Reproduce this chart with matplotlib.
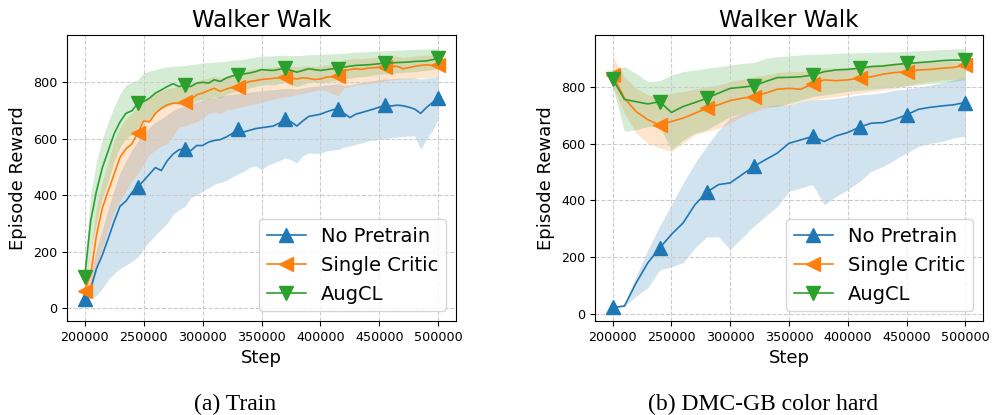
import numpy as np
import matplotlib
matplotlib.use("Agg")
import matplotlib.pyplot as plt

# ---- data: train (left) ----
train_steps = np.arange(200000, 500001, 5000)

train_none = [32, 68, 140, 188, 247, 307, 361, 379, 409, 430, 451, 475, 498, 487, 522, 546,
              561, 564, 558, 576, 576, 588, 594, 597, 606, 618, 636, 624, 630, 636, 639, 642,
              645, 655, 669, 660, 645, 663, 679, 683, 687, 695, 702, 707, 690, 675, 687, 693,
              699, 705, 712, 719, 716, 719, 717, 712, 705, 690, 711, 728, 746]
train_none_lo = [25, 35, 44, 70, 100, 122, 140, 152, 165, 180, 212, 235, 259, 280, 300, 331,
                 349, 360, 391, 400, 415, 425, 439, 445, 451, 465, 475, 485, 498, 504, 490, 505,
                 514, 522, 532, 525, 514, 540, 550, 548, 550, 556, 560, 562, 570, 575, 580, 585,
                 592, 595, 598, 600, 604, 606, 608, 610, 610, 562, 598, 630, 669]
train_none_hi = [40, 110, 212, 280, 350, 420, 480, 520, 560, 590, 620, 640, 660, 670, 685, 700,
                 710, 715, 720, 730, 737, 742, 748, 750, 755, 758, 761, 762, 765, 768, 770, 772,
                 774, 776, 778, 778, 776, 780, 784, 786, 788, 790, 792, 795, 790, 790, 795, 800,
                 803, 806, 810, 812, 812, 814, 815, 815, 815, 812, 815, 817, 820]

train_single = [62, 116, 259, 355, 415, 475, 534, 564, 582, 620, 663, 660, 690, 708, 720, 726,
                726, 732, 738, 756, 762, 771, 779, 768, 776, 782, 785, 795, 803, 806, 810, 812,
                814, 816, 818, 815, 812, 816, 814, 810, 812, 818, 820, 822, 842, 845, 848, 846,
                850, 852, 853, 854, 856, 857, 848, 852, 857, 860, 862, 860, 862]
train_single_lo = [0, 40, 140, 212, 280, 343, 380, 415, 450, 475, 510, 546, 560, 575, 582, 610,
                   642, 645, 654, 660, 672, 690, 695, 690, 702, 705, 710, 715, 720, 725, 730, 735,
                   740, 745, 748, 752, 756, 760, 765, 770, 776, 770, 760, 752, 780, 785, 790, 792,
                   794, 798, 802, 805, 808, 810, 812, 812, 814, 816, 816, 818, 818]
train_single_hi = [100, 200, 360, 450, 520, 594, 640, 670, 690, 710, 738, 745, 760, 770, 778, 782,
                   785, 790, 795, 805, 810, 815, 820, 815, 822, 828, 832, 838, 845, 848, 850, 852,
                   855, 856, 858, 856, 855, 858, 858, 856, 858, 862, 864, 866, 880, 882, 885, 884,
                   886, 888, 890, 890, 892, 893, 888, 890, 893, 895, 897, 896, 897]

train_augcl = [110, 307, 415, 498, 558, 618, 660, 690, 699, 725, 732, 744, 762, 773, 785, 795,
               785, 791, 785, 797, 800, 797, 809, 803, 815, 822, 827, 830, 833, 838, 845, 843,
               842, 846, 850, 842, 836, 842, 848, 845, 842, 845, 848, 848, 854, 857, 860, 861,
               862, 864, 866, 869, 869, 870, 871, 872, 874, 875, 876, 880, 886]
train_augcl_lo = [70, 200, 300, 390, 450, 520, 570, 600, 615, 640, 660, 670, 690, 705, 715, 725,
                  720, 725, 720, 735, 740, 740, 750, 745, 758, 765, 770, 775, 780, 785, 790, 792,
                  790, 795, 800, 790, 785, 792, 800, 800, 798, 802, 806, 808, 812, 815, 818, 820,
                  822, 825, 828, 830, 832, 833, 835, 836, 838, 840, 842, 845, 850]
train_augcl_hi = [150, 400, 520, 600, 660, 714, 760, 791, 800, 809, 833, 840, 845, 850, 855, 857,
                  858, 860, 862, 865, 869, 870, 872, 873, 875, 878, 880, 882, 886, 890, 893, 893,
                  894, 895, 896, 895, 895, 896, 898, 898, 899, 900, 901, 902, 903, 905, 907, 908,
                  909, 910, 911, 912, 913, 914, 915, 916, 917, 918, 918, 919, 920]

# ---- data: DMC-GB color hard (right) ----
test_steps = np.arange(200000, 500001, 10000)

test_none = [22, 27, 109, 180, 232, 280, 321, 385, 429, 456, 462, 491, 520, 544, 567, 602,
             614, 626, 608, 628, 640, 659, 673, 675, 687, 702, 722, 729, 734, 738, 746]
test_none_lo = [20, 25, 62, 92, 154, 166, 180, 232, 271, 271, 227, 268, 309, 344, 379, 432,
                444, 456, 385, 414, 438, 467, 503, 520, 544, 567, 591, 602, 608, 620, 628]
test_none_hi = [25, 30, 133, 227, 309, 385, 462, 532, 591, 649, 690, 708, 720, 732, 737, 737,
                749, 755, 757, 761, 767, 773, 776, 781, 790, 793, 800, 808, 816, 826, 835]

test_single = [845, 761, 714, 685, 667, 679, 691, 708, 726, 738, 753, 761, 767, 779, 793, 796,
               793, 812, 826, 823, 826, 832, 837, 846, 852, 855, 861, 863, 867, 870, 878]
test_single_lo = [802, 708, 638, 602, 585, 573, 602, 632, 644, 655, 673, 696, 714, 726, 734, 737,
                  749, 755, 761, 767, 773, 779, 785, 790, 796, 805, 814, 820, 826, 828, 832]
test_single_hi = [908, 837, 796, 773, 767, 779, 785, 793, 802, 808, 820, 828, 837, 843, 852, 855,
                  855, 862, 868, 868, 870, 874, 878, 882, 885, 887, 889, 890, 891, 892, 894]

test_augcl = [830, 757, 749, 741, 749, 711, 732, 746, 761, 779, 796, 800, 805, 820, 834, 835,
              837, 843, 855, 861, 863, 867, 873, 875, 880, 884, 887, 890, 894, 896, 896]
test_augcl_lo = [802, 644, 650, 661, 661, 579, 614, 638, 650, 673, 696, 708, 720, 732, 732, 743,
                 755, 767, 773, 779, 785, 789, 793, 797, 801, 805, 809, 813, 817, 821, 826]
test_augcl_hi = [861, 873, 849, 820, 823, 843, 855, 861, 867, 873, 878, 884, 887, 902, 908, 911,
                 914, 917, 917, 920, 921, 922, 923, 924, 925, 927, 929, 931, 933, 935, 937]

labels = ["No Pretrain", "Single Critic", "AugCL"]
colors = ["tab:blue", "tab:orange", "tab:green"]
markers = ["^", "<", "v"]


def draw(ax, steps, series, marks):
    for (mean, lo, hi), lab, c, m in zip(series, labels, colors, markers):
        ax.fill_between(steps, lo, hi, color=c, alpha=0.2, linewidth=0)
        ax.plot(steps, mean, color=c, marker=m, markersize=10, markevery=marks,
                linewidth=1.2, label=lab)
    ax.set_title("Walker Walk", fontsize=16.5)
    ax.set_xlabel("Step", fontsize=13)
    ax.set_ylabel("Episode Reward", fontsize=13)
    ax.tick_params(labelsize=9.2)
    ax.grid(True, linestyle="--", color="#cccccc", linewidth=0.8)
    ax.legend(loc="lower right", fontsize=14)


fig = plt.figure(figsize=(9.93, 4.15), dpi=100)
ax1 = fig.add_axes([0.0675, 0.2265, 0.3917, 0.688])
ax2 = fig.add_axes([0.5992, 0.2265, 0.3907, 0.688])

draw(ax1, train_steps,
     [(train_none, train_none_lo, train_none_hi),
      (train_single, train_single_lo, train_single_hi),
      (train_augcl, train_augcl_lo, train_augcl_hi)],
     [0, 9, 17, 26, 34, 43, 51, 60])
draw(ax2, test_steps,
     [(test_none, test_none_lo, test_none_hi),
      (test_single, test_single_lo, test_single_hi),
      (test_augcl, test_augcl_lo, test_augcl_hi)],
     [0, 4, 8, 12, 17, 21, 25, 30])

fig.text(235 / 993, 1 - 404 / 415, "(a) Train", ha="center", va="center",
         fontsize=17, family="Liberation Serif")
fig.text(763 / 993, 1 - 404 / 415, "(b) DMC-GB color hard", ha="center", va="center",
         fontsize=17, family="Liberation Serif")

fig.savefig("out.png", dpi=100)
